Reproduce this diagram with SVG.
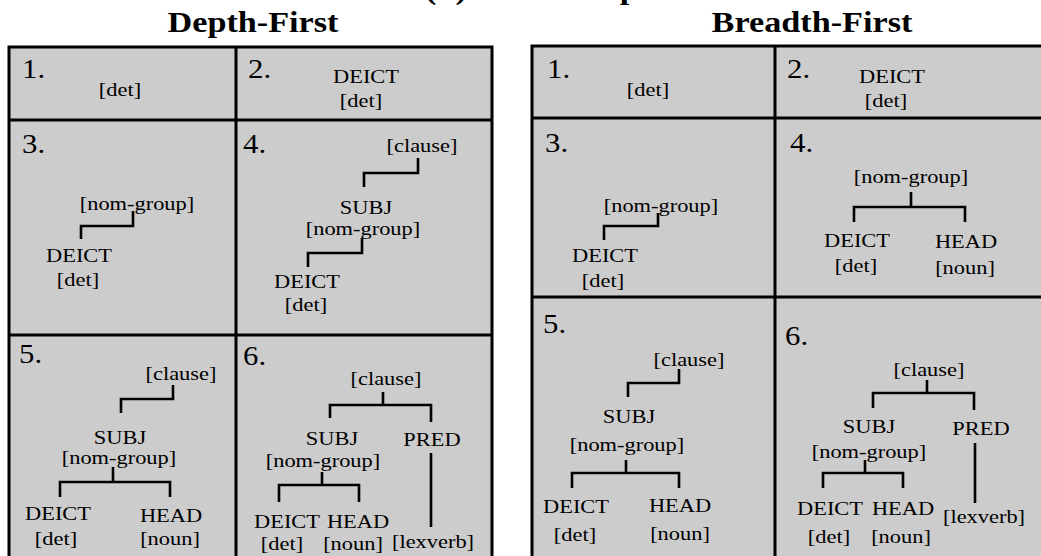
<svg xmlns="http://www.w3.org/2000/svg" width="1041" height="556" viewBox="0 0 1041 556">
<style>
.h{font-family:"Liberation Serif","Times New Roman",serif;font-weight:bold;font-size:29px;text-anchor:middle;fill:#000}
.n{font-family:"Liberation Serif","Times New Roman",serif;font-size:28px;fill:#000}
.t{font-family:"Liberation Serif","Times New Roman",serif;font-size:19px;text-anchor:middle;fill:#000}
.box{fill:#cccccc;stroke:#000;stroke-width:3}
.div{stroke:#000;stroke-width:3;fill:none}
.c{stroke:#000;stroke-width:2.6;fill:none}
</style>
<rect width="1041" height="556" fill="#ffffff"/>
<g id="titles">
<text class="h" transform="translate(532,-1.5) scale(1.18,1)">(b) Bottom-Up</text>
<text class="h" transform="translate(253,32) scale(1.18,1)">Depth-First</text>
<text class="h" transform="translate(812,32) scale(1.18,1)">Breadth-First</text>
</g>
<g id="tables">
<rect class="box" x="9" y="47" width="483" height="520"/>
<line class="div" x1="236" y1="47" x2="236" y2="560"/>
<line class="div" x1="9" y1="120" x2="492" y2="120"/>
<line class="div" x1="9" y1="335" x2="492" y2="335"/>
<rect class="box" x="532" y="46" width="520" height="520"/>
<line class="div" x1="775" y1="46" x2="775" y2="560"/>
<line class="div" x1="532" y1="118" x2="1045" y2="118"/>
<line class="div" x1="532" y1="297" x2="1045" y2="297"/>
</g>
<g id="connectors">
<path class="c" d="M133,211 V226 H81 V239"/>
<path class="c" d="M418,158 V173 H364 V187"/>
<path class="c" d="M362,238 V253 H308 V267"/>
<path class="c" d="M173,385 V399 H121 V413"/>
<path class="c" d="M113,467 V482"/>
<path class="c" d="M60,497 V482 H170 V497"/>
<path class="c" d="M383,392 V405"/>
<path class="c" d="M330,418 V405 H431 V422"/>
<path class="c" d="M322,472 V485"/>
<path class="c" d="M279,502 V485 H359 V502"/>
<path class="c" d="M431,453 V527"/>
<path class="c" d="M658,213 V226 H604 V240"/>
<path class="c" d="M911,192 V207"/>
<path class="c" d="M854,222 V207 H965 V222"/>
<path class="c" d="M679,369 V383 H628 V397"/>
<path class="c" d="M626,460 V473"/>
<path class="c" d="M572,488 V473 H679 V488"/>
<path class="c" d="M927,380 V393"/>
<path class="c" d="M873,408 V393 H974 V410"/>
<path class="c" d="M865,460 V473"/>
<path class="c" d="M823,488 V473 H903 V488"/>
<path class="c" d="M975,443 V503"/>
</g>
<g id="df-1">
<text class="n" transform="translate(22,78) scale(1.1,1)">1.</text>
<g id="df1-det"><text class="t" transform="translate(120,96) scale(1.18,1)">[det]</text></g>
</g>
<g id="df-2">
<text class="n" transform="translate(248,78) scale(1.1,1)">2.</text>
<g id="df2-deict"><text class="t" transform="translate(366,83) scale(1.18,1)">DEICT</text><text class="t" transform="translate(361,107) scale(1.18,1)">[det]</text></g>
</g>
<g id="df-3">
<text class="n" transform="translate(22,153) scale(1.1,1)">3.</text>
<g id="df3-ng"><text class="t" transform="translate(137,210) scale(1.18,1)">[nom-group]</text></g>
<g id="df3-deict"><text class="t" transform="translate(79,262) scale(1.18,1)">DEICT</text><text class="t" transform="translate(78,286) scale(1.18,1)">[det]</text></g>
</g>
<g id="df-4">
<text class="n" transform="translate(243,153) scale(1.1,1)">4.</text>
<g id="df4-clause"><text class="t" transform="translate(422,152) scale(1.18,1)">[clause]</text></g>
<g id="df4-subj"><text class="t" transform="translate(366,214) scale(1.18,1)">SUBJ</text><text class="t" transform="translate(363,235) scale(1.18,1)">[nom-group]</text></g>
<g id="df4-deict"><text class="t" transform="translate(307,288) scale(1.18,1)">DEICT</text><text class="t" transform="translate(306,311) scale(1.18,1)">[det]</text></g>
</g>
<g id="df-5">
<text class="n" transform="translate(19,363) scale(1.1,1)">5.</text>
<g id="df5-clause"><text class="t" transform="translate(181,380) scale(1.18,1)">[clause]</text></g>
<g id="df5-subj"><text class="t" transform="translate(120,444) scale(1.18,1)">SUBJ</text><text class="t" transform="translate(119,464) scale(1.18,1)">[nom-group]</text></g>
<g id="df5-deict"><text class="t" transform="translate(58,520) scale(1.18,1)">DEICT</text><text class="t" transform="translate(56,545) scale(1.18,1)">[det]</text></g>
<g id="df5-head"><text class="t" transform="translate(171,522) scale(1.18,1)">HEAD</text><text class="t" transform="translate(170,545) scale(1.18,1)">[noun]</text></g>
</g>
<g id="df-6">
<text class="n" transform="translate(243,365) scale(1.1,1)">6.</text>
<g id="df6-clause"><text class="t" transform="translate(386,385) scale(1.18,1)">[clause]</text></g>
<g id="df6-subj"><text class="t" transform="translate(332,445) scale(1.18,1)">SUBJ</text><text class="t" transform="translate(323,467) scale(1.18,1)">[nom-group]</text></g>
<g id="df6-pred"><text class="t" transform="translate(432,446) scale(1.18,1)">PRED</text></g>
<g id="df6-deict"><text class="t" transform="translate(287,528) scale(1.18,1)">DEICT</text><text class="t" transform="translate(282,550) scale(1.18,1)">[det]</text></g>
<g id="df6-head"><text class="t" transform="translate(358,528) scale(1.18,1)">HEAD</text><text class="t" transform="translate(353,550) scale(1.18,1)">[noun]</text></g>
<g id="df6-lexverb"><text class="t" transform="translate(433,548) scale(1.18,1)">[lexverb]</text></g>
</g>
<g id="bf-1">
<text class="n" transform="translate(547,78) scale(1.1,1)">1.</text>
<g id="bf1-det"><text class="t" transform="translate(648,96) scale(1.18,1)">[det]</text></g>
</g>
<g id="bf-2">
<text class="n" transform="translate(787,78) scale(1.1,1)">2.</text>
<g id="bf2-deict"><text class="t" transform="translate(892,83) scale(1.18,1)">DEICT</text><text class="t" transform="translate(886,107) scale(1.18,1)">[det]</text></g>
</g>
<g id="bf-3">
<text class="n" transform="translate(545,152) scale(1.1,1)">3.</text>
<g id="bf3-ng"><text class="t" transform="translate(661,212) scale(1.18,1)">[nom-group]</text></g>
<g id="bf3-deict"><text class="t" transform="translate(605,262) scale(1.18,1)">DEICT</text><text class="t" transform="translate(603,287) scale(1.18,1)">[det]</text></g>
</g>
<g id="bf-4">
<text class="n" transform="translate(790,152) scale(1.1,1)">4.</text>
<g id="bf4-ng"><text class="t" transform="translate(911,183) scale(1.18,1)">[nom-group]</text></g>
<g id="bf4-deict"><text class="t" transform="translate(857,247) scale(1.18,1)">DEICT</text><text class="t" transform="translate(856,272) scale(1.18,1)">[det]</text></g>
<g id="bf4-head"><text class="t" transform="translate(966,248) scale(1.18,1)">HEAD</text><text class="t" transform="translate(965,274) scale(1.18,1)">[noun]</text></g>
</g>
<g id="bf-5">
<text class="n" transform="translate(543,333) scale(1.1,1)">5.</text>
<g id="bf5-clause"><text class="t" transform="translate(689,366) scale(1.18,1)">[clause]</text></g>
<g id="bf5-subj"><text class="t" transform="translate(629,423) scale(1.18,1)">SUBJ</text><text class="t" transform="translate(627,451) scale(1.18,1)">[nom-group]</text></g>
<g id="bf5-deict"><text class="t" transform="translate(576,513) scale(1.18,1)">DEICT</text><text class="t" transform="translate(575,541) scale(1.18,1)">[det]</text></g>
<g id="bf5-head"><text class="t" transform="translate(680,512) scale(1.18,1)">HEAD</text><text class="t" transform="translate(680,540) scale(1.18,1)">[noun]</text></g>
</g>
<g id="bf-6">
<text class="n" transform="translate(785,345) scale(1.1,1)">6.</text>
<g id="bf6-clause"><text class="t" transform="translate(929,376) scale(1.18,1)">[clause]</text></g>
<g id="bf6-subj"><text class="t" transform="translate(869,433) scale(1.18,1)">SUBJ</text><text class="t" transform="translate(869,458) scale(1.18,1)">[nom-group]</text></g>
<g id="bf6-pred"><text class="t" transform="translate(981,435) scale(1.18,1)">PRED</text></g>
<g id="bf6-deict"><text class="t" transform="translate(830,515) scale(1.18,1)">DEICT</text><text class="t" transform="translate(829,543) scale(1.18,1)">[det]</text></g>
<g id="bf6-head"><text class="t" transform="translate(903,515) scale(1.18,1)">HEAD</text><text class="t" transform="translate(901,543) scale(1.18,1)">[noun]</text></g>
<g id="bf6-lexverb"><text class="t" transform="translate(984,523) scale(1.18,1)">[lexverb]</text></g>
</g>
</svg>
